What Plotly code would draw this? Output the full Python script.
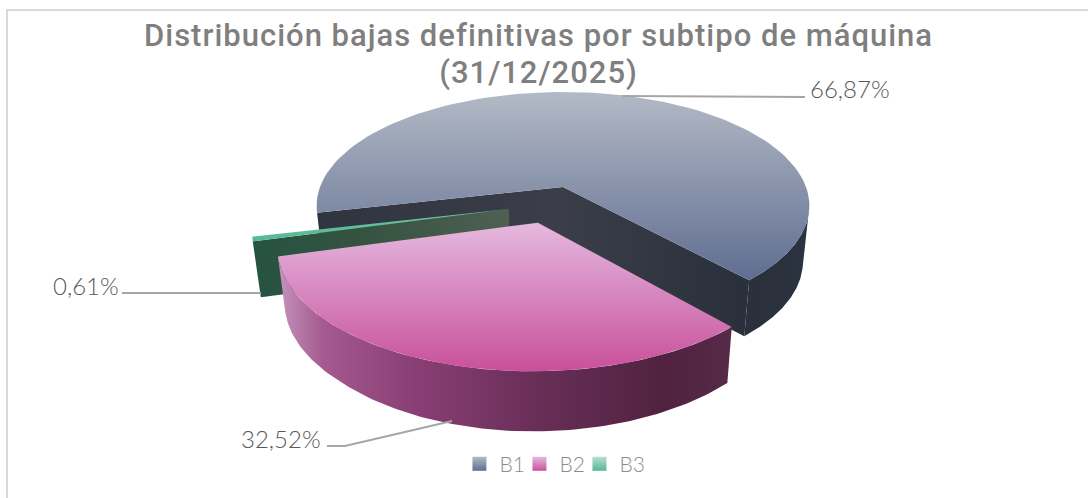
import numpy as np
import plotly.graph_objects as go

categories = ["B1", "B2", "B3"]
values = [66.87, 32.52, 0.61]
title_lines = ["Distribución bajas definitivas por subtipo de máquina", "(31/12/2025)"]

# projection of the tilted pie onto the canvas
CX, CY, A, B, K = 563.0, 187.0, 243.0, 110.7, 0.165
DEPTH, TAPER, VX = 56.0, 0.974, 562.0
START = 193.0
OFFSETS = {"B1": (0.0, 0.0), "B2": (-0.098, -0.306), "B3": (-0.216, -0.192)}
TOP = {"B1": ["#5f6d90", "#b3bac6"], "B2": ["#c9509b", "#e4b9df"], "B3": ["#56b794", "#6cc4a3"]}
SWATCH = {"B1": ["#b3bac6", "#5f6d90"], "B2": ["#e4b9df", "#c9509b"], "B3": ["#b8dfcf", "#56b794"]}
WALL_B1 = [[0, "#30343f"], [0.55, "#3b3e48"], [1, "#29303b"]]
WALL_B2 = [[0, "#c494bc"], [0.1, "#a45a8e"], [0.3, "#8a3f74"], [0.55, "#6b2f5a"], [0.85, "#50223f"], [1, "#562b48"]]
WALL_B3 = [[0, "#265342"], [0.4, "#35523f"], [1, "#4f6052"]]
GREY = "#a6a6a6"


def proj(X, Y):
    d = 1 + K * Y
    return CX + A * X / d, CY - B * Y / d


def pt(name, theta):
    ox, oy = OFFSETS[name]
    t = np.radians(theta)
    return proj(ox + np.cos(t), oy + np.sin(t))


def apex(name):
    return proj(*OFFSETS[name])


def down(x, y):
    x, y = np.asarray(x, float), np.asarray(y, float)
    return VX + (x - VX) * TAPER, y + DEPTH + 0.09 * np.maximum(0, y - 326)


def arc(name, t0, t1, n=120):
    return pt(name, np.linspace(t0, t1, n))


spans = {}
a = START
for c, v in zip(categories, values):
    spans[c] = (a, a - v * 3.6)
    a -= v * 3.6

fig = go.Figure()


def poly(x, y, stops, kind, name=None):
    fig.add_trace(go.Scatter(
        x=list(x), y=list(y), mode="lines", fill="toself",
        line=dict(width=0), hoverinfo="skip", showlegend=False,
        fillgradient=dict(type=kind, colorscale=stops), name=name))


def top_face(name):
    t0, t1 = spans[name]
    ax, ay = apex(name)
    x, y = arc(name, t0, t1)
    poly(np.r_[ax, x, ax], np.r_[ay, y, ay], [[0, TOP[name][0]], [1, TOP[name][1]]], "vertical", name)


def cut_wall(name, thetas, stops):
    ax, ay = apex(name)
    xs, ys = [], []
    for i, th in enumerate(thetas):
        px, py = pt(name, th)
        if i == 1:
            xs.append(ax)
            ys.append(ay)
        xs.append(px)
        ys.append(py)
    xs, ys = np.array(xs), np.array(ys)
    xd, yd = down(xs, ys)
    poly(np.r_[xs, xd[::-1], xs[0]], np.r_[ys, yd[::-1], ys[0]], stops, "horizontal")


def front_wall(name, theta, stops):
    ax, ay = apex(name)
    px, py = pt(name, theta)
    x0, y0 = down(ax, ay)
    x1, y1 = down(px, py)
    poly([ax, px, x1, x0, ax], [ay, py, y1, y0, ay], stops, "horizontal")


def outer_wall(name, t0, t1, stops):
    x, y = arc(name, t0, t1)
    xd, yd = down(x, y)
    poly(np.r_[x, xd[::-1], x[0]], np.r_[y, yd[::-1], y[0]], stops, "horizontal")


# B1: cut faces, outer rim (from the right silhouette point), then top
cut_wall("B1", list(spans["B1"]), WALL_B1)
outer_wall("B1", -np.degrees(np.arcsin(K)), spans["B1"][1], [[0, "#29303b"], [1, "#2c3340"]])
top_face("B1")
# B3: front cut face, then top
front_wall("B3", spans["B3"][0], WALL_B3)
top_face("B3")
# B2: rim then top
outer_wall("B2", spans["B2"][1], spans["B2"][0], WALL_B2)
top_face("B2")

# legend keys
for c in categories:
    fig.add_trace(go.Scatter(
        x=[None], y=[None], mode="markers", name=c,
        marker=dict(symbol="square", size=14, color=SWATCH[c][0],
                    gradient=dict(type="vertical", color=SWATCH[c][1]))))

# data labels with leader lines
labels = [f"{v:.2f}".replace(".", ",") + "%" for v in values]
leaders = {
    "B1": ([622, 805], [96, 97]),
    "B2": ([452, 345, 327], [421, 446, 446]),
    "B3": ([261, 122], [293, 293]),
}
pos = {"B1": (808, 88, "left"), "B2": (323, 438, "right"), "B3": (121, 285, "right")}
frame = dict(type="path", path="M 7 498 L 7 10 L 1088 10", line=dict(color="#d9d9d9", width=2), layer="below")
annotations = []
for c, lab in zip(categories, labels):
    lx, ly = leaders[c]
    fig.add_trace(go.Scatter(x=lx, y=ly, mode="lines", line=dict(color=GREY, width=2),
                             hoverinfo="skip", showlegend=False))
    x, y, anc = pos[c]
    annotations.append(dict(x=x, y=y, text=lab, showarrow=False, xanchor=anc, yanchor="middle",
                            font=dict(family="Lato", size=24, color="#595959", weight=300)))

title_html = "<br>".join(f'<span style="letter-spacing:1px;font-size:31px">{t}</span>' for t in title_lines)

fig.update_layout(
    width=1088, height=498, margin=dict(l=0, r=0, t=0, b=0),
    paper_bgcolor="white", plot_bgcolor="white",
    xaxis=dict(range=[0, 1088], visible=False, fixedrange=True),
    yaxis=dict(range=[498, 0], visible=False, fixedrange=True),
    shapes=[frame], annotations=annotations,
    title=dict(text=title_html, x=0.495, xanchor="center", y=0.908, yanchor="top",
               font=dict(family="Roboto", size=28.5, color="#7f7f7f", weight=500)),
    legend=dict(orientation="h", x=0.505, xanchor="center", y=0.068, yanchor="middle",
                font=dict(family="Lato", size=21, color="#8c8c8c", weight=300),
                itemwidth=30, entrywidth=15, entrywidthmode="pixels", bgcolor="rgba(0,0,0,0)"),
    showlegend=True,
)
fig.write_html(
    "out.html", config=dict(displayModeBar=False),
    post_script="document.body.style.margin='0';"
                "var s=document.createElement('style');"
                "s.textContent='.legend .scrollbox{clip-path:none !important}';"
                "document.head.appendChild(s);")
